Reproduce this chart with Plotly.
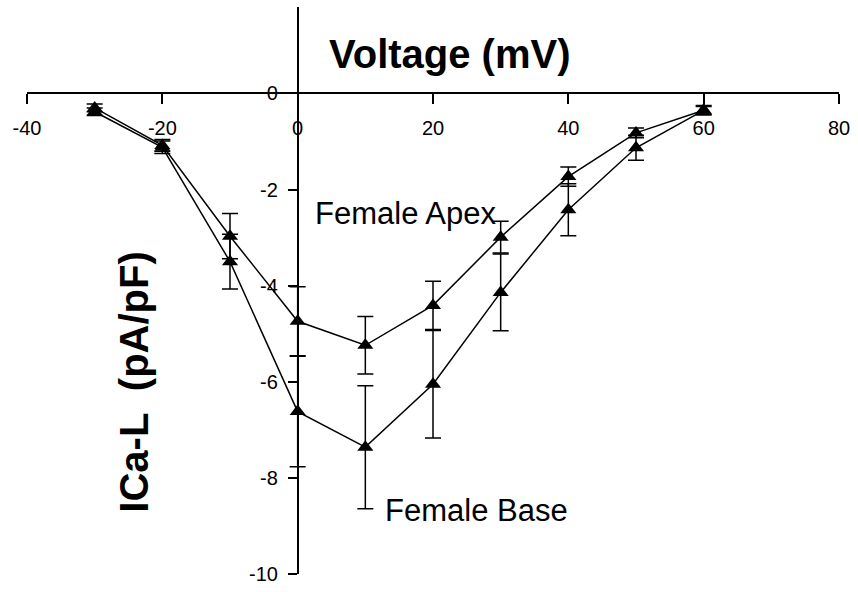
import plotly.graph_objects as go

voltage = [-30, -20, -10, 0, 10, 20, 30, 40, 50, 60]
apex_mean = [-0.30, -1.08, -2.97, -4.74, -5.24, -4.41, -2.99, -1.73, -0.82, -0.35]
apex_err = [0.08, 0.12, 0.47, 0.72, 0.60, 0.50, 0.33, 0.20, 0.10, 0.08]
base_mean = [-0.38, -1.12, -3.50, -6.62, -7.36, -6.05, -4.14, -2.42, -1.13, -0.35]
base_err = [0.08, 0.13, 0.57, 1.15, 1.28, 1.12, 0.80, 0.54, 0.26, 0.10]

x_tickvals = [-40, -20, 0, 20, 40, 60, 80]
x_ticktext = ["-40", "-20", "0", "20", "40", "60", "80"]
y_tickvals = [0, -2, -4, -6, -8, -10]
y_ticktext = ["0", "-2", "-4", "-6", "-8", "-10"]

FONT = "Arial, Liberation Sans, sans-serif"
XR = [-40, 80]
YR = [-10, 1.80]
W, H = 858, 592
L, R, T, B = 27, 19, 7, 13
PW, PH = W - L - R, H - T - B


def px(x):
    return (x - L) / PW


def py(y):
    return (H - B - y) / PH


fig = go.Figure()
for name, ys, es in [("Female Apex", apex_mean, apex_err), ("Female Base", base_mean, base_err)]:
    fig.add_trace(go.Scatter(
        x=voltage, y=ys, name=name, mode="lines+markers",
        line=dict(color="black", width=1.5),
        marker=dict(symbol="triangle-up", size=14, color="black"),
        error_y=dict(type="data", array=es, visible=True, color="black", thickness=1.5, width=8),
        showlegend=False,
    ))

xpos = (0 - YR[0]) / (YR[1] - YR[0])
ypos = (0 - XR[0]) / (XR[1] - XR[0])

fig.update_layout(
    width=W, height=H,
    margin=dict(l=L, r=R, t=T, b=B),
    paper_bgcolor="white", plot_bgcolor="white",
    font=dict(family=FONT, color="black"),
    xaxis=dict(range=XR, tickvals=x_tickvals, ticktext=x_ticktext,
               showgrid=False, zeroline=False, showline=True, linecolor="black", linewidth=1.5,
               ticks="outside", ticklen=10, tickwidth=1.5, tickcolor="black",
               tickfont=dict(size=20, family=FONT), anchor="free", position=xpos,
               ticklabelstandoff=7),
    yaxis=dict(range=YR, tickvals=y_tickvals, ticktext=y_ticktext,
               showgrid=False, zeroline=False, showline=True, linecolor="black", linewidth=1.5,
               ticks="outside", ticklen=9, tickwidth=1.5, tickcolor="black",
               tickfont=dict(size=20, family=FONT), anchor="free", position=ypos,
               ticklabelstandoff=6),
    annotations=[
        dict(text="<b>Voltage (mV)</b>", x=px(450), y=py(54), xref="paper", yref="paper",
             showarrow=False, font=dict(size=40, family=FONT), xanchor="center", yanchor="middle"),
        dict(text="Female Apex", x=px(405), y=py(215), xref="paper", yref="paper",
             showarrow=False, font=dict(size=31, family=FONT), xanchor="center", yanchor="middle"),
        dict(text="Female Base", x=px(476), y=py(515), xref="paper", yref="paper",
             showarrow=False, font=dict(size=31, family=FONT), xanchor="center", yanchor="middle"),
        dict(text="<b>ICa-L  (pA/pF)</b>", x=px(134), y=py(386), xref="paper", yref="paper",
             showarrow=False, font=dict(size=40, family=FONT), textangle=-90,
             xanchor="center", yanchor="middle"),
    ],
)

fig.write_html("out.html")
